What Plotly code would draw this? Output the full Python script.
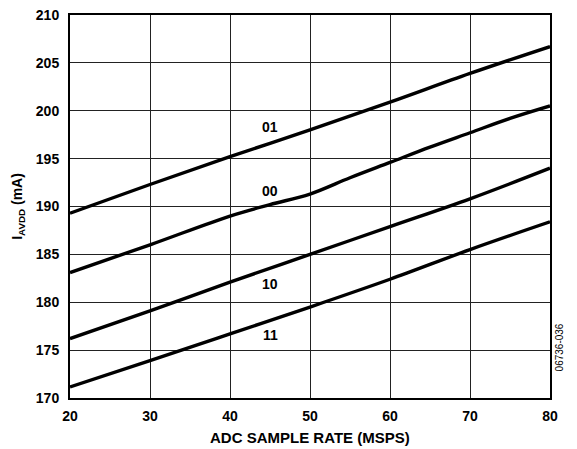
import plotly.graph_objects as go

# sample rate (MSPS) and AVDD current (mA)
x_01 = [20, 30, 40, 50, 60, 70, 80]
y_01 = [189.3, 192.3, 195.2, 198.0, 200.9, 203.9, 206.7]

x_00 = [20, 30, 40, 45, 50, 55, 60, 65, 70, 75, 80]
y_00 = [183.1, 186.0, 189.0, 190.2, 191.3, 193.0, 194.6, 196.2, 197.7, 199.2, 200.5]

x_10 = [20, 30, 40, 50, 60, 70, 80]
y_10 = [176.2, 179.1, 182.1, 185.0, 187.9, 190.8, 194.0]

x_11 = [20, 30, 40, 50, 60, 70, 80]
y_11 = [171.15, 173.9, 176.7, 179.5, 182.4, 185.5, 188.4]

labels = ["01", "00", "10", "11"]
label_x = [45, 45, 45, 45]
label_y = [198.3, 191.6, 181.9, 176.6]

font = "Liberation Sans, Arial, sans-serif"

fig = go.Figure()
for xs, ys in [(x_01, y_01), (x_00, y_00), (x_10, y_10), (x_11, y_11)]:
    fig.add_trace(go.Scatter(x=xs, y=ys, mode="lines",
                             line=dict(color="black", width=3.4, shape="spline"),
                             showlegend=False, hoverinfo="skip"))

for t, lx, ly in zip(labels, label_x, label_y):
    fig.add_annotation(x=lx, y=ly, text=t, showarrow=False,
                       font=dict(family=font, size=14, color="black", weight="bold"))

# x title placed by hand
fig.add_annotation(xref="paper", yref="paper", x=0.5, y=-0.104, yanchor="middle",
                   text="ADC SAMPLE RATE (MSPS)", showarrow=False,
                   font=dict(family=font, size=15, color="black", weight="bold"))
# figure code at the right edge
fig.add_annotation(xref="paper", yref="paper", x=1.035, y=0.065,
                   text="06736-036", textangle=-90, showarrow=False,
                   font=dict(family=font, size=10, color="black"))

fig.update_xaxes(range=[20, 80], dtick=10, showgrid=True, gridcolor="#222",
                 gridwidth=1.3, showline=True, linecolor="black", linewidth=2,
                 mirror=True, zeroline=False, ticks="", ticklabelstandoff=4,
                 ticklabeloverflow="allow",
                 tickfont=dict(family=font, size=14, color="black", weight="bold"))
fig.update_yaxes(range=[170, 210], dtick=5, showgrid=True, gridcolor="#222",
                 gridwidth=1.3, showline=True, linecolor="black", linewidth=2,
                 mirror=True, zeroline=False, ticks="", ticklabelstandoff=6,
                 ticklabeloverflow="allow",
                 tickfont=dict(family=font, size=14, color="black", weight="bold"),
                 title=dict(text="I<sub>AVDD</sub> (mA)", standoff=10,
                            font=dict(family=font, size=14, color="black", weight="bold")))

# the page body adds an 8px offset, so margins are shifted to compensate
fig.update_layout(width=577, height=449, margin=dict(l=62, r=35, t=7, b=59, autoexpand=False),
                  plot_bgcolor="white", paper_bgcolor="white")

fig.write_html("out.html")
